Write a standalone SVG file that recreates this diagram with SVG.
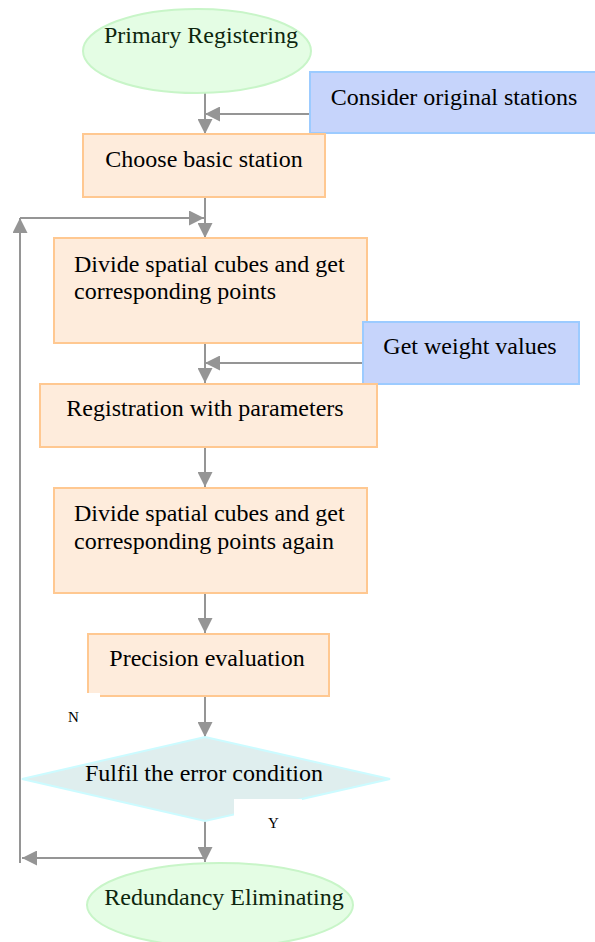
<svg xmlns="http://www.w3.org/2000/svg" width="595" height="942" viewBox="0 0 595 942">
<style>
.box{fill:#feecdc;stroke:#ffc891;stroke-width:2}
.blue{fill:#c6d4fb;stroke:#9ccbff;stroke-width:2}
.term{fill:#e4fde4;stroke:#c8f5c8;stroke-width:2}
.dia{fill:#dfeeee;stroke:#ccfbff;stroke-width:2}
.t{font-family:"Liberation Serif","Times New Roman",serif;font-size:24px;fill:#000}
.tg{font-family:"Liberation Serif","Times New Roman",serif;font-size:24px;fill:#0d260d}
.s{font-family:"Liberation Serif","Times New Roman",serif;font-size:15px;fill:#000}
.c{fill:none;stroke:#959595;stroke-width:2}
</style>
<defs>
<marker id="ah" viewBox="0 0 15 15" refX="15" refY="7.5" markerWidth="15" markerHeight="15" markerUnits="userSpaceOnUse" orient="auto">
<path d="M0,0 L15,7.5 L0,15 z" fill="#959595"/>
</marker>
</defs>
<g id="connectors">
<path class="c" d="M205,93 V134" marker-end="url(#ah)"/>
<path class="c" d="M310,114 H205" marker-end="url(#ah)"/>
<path class="c" d="M205,197 V238" marker-end="url(#ah)"/>
<path class="c" d="M205,343 V383" marker-end="url(#ah)"/>
<path class="c" d="M363,363 H205" marker-end="url(#ah)"/>
<path class="c" d="M205,447 V487" marker-end="url(#ah)"/>
<path class="c" d="M205,593 V633" marker-end="url(#ah)"/>
<path class="c" d="M205,697 V737" marker-end="url(#ah)"/>
<path class="c" d="M205,821 V862" marker-end="url(#ah)"/>
<path class="c" d="M205,858 H22" marker-end="url(#ah)"/>
<path class="c" d="M20,863 V218" marker-end="url(#ah)"/>
<path class="c" d="M20,218 H204" marker-end="url(#ah)"/>
</g>
<g id="start">
<ellipse class="term" cx="197" cy="51" rx="114" ry="42"/>
<text class="tg" x="201" y="43" text-anchor="middle">Primary Registering</text>
</g>
<g id="consider">
<rect class="blue" x="310" y="72" width="290" height="61"/>
<text class="t" x="454" y="105" text-anchor="middle">Consider original stations</text>
</g>
<g id="choose">
<rect class="box" x="83" y="134" width="242" height="63"/>
<text class="t" x="204" y="167" text-anchor="middle">Choose basic station</text>
</g>
<g id="divide1">
<rect class="box" x="54" y="238" width="313" height="105"/>
<text class="t" x="74" y="272">Divide spatial cubes and get</text>
<text class="t" x="74" y="299">corresponding points</text>
</g>
<g id="weight">
<rect class="blue" x="363" y="322" width="216" height="62"/>
<text class="t" x="470" y="354" text-anchor="middle">Get weight values</text>
</g>
<g id="registration">
<rect class="box" x="40" y="384" width="337" height="63"/>
<text class="t" x="205" y="416" text-anchor="middle">Registration with parameters</text>
</g>
<g id="divide2">
<rect class="box" x="54" y="488" width="313" height="105"/>
<text class="t" x="74" y="521">Divide spatial cubes and get</text>
<text class="t" x="74" y="549">corresponding points again</text>
</g>
<g id="precision">
<rect class="box" x="88" y="634" width="241" height="62"/>
<rect x="86" y="693" width="14" height="6" fill="#fff"/>
<text class="t" x="207" y="666" text-anchor="middle">Precision evaluation</text>
</g>
<g id="decision">
<polygon class="dia" points="205,737 390,779 205,821 22,779"/>
<text class="t" x="204" y="781" text-anchor="middle">Fulfil the error condition</text>
</g>
<g id="labels">
<text class="s" x="68" y="722">N</text>
<rect x="234" y="799" width="68" height="30" fill="#fff"/>
<text class="s" x="268" y="828">Y</text>
</g>
<g id="end">
<ellipse class="term" cx="220" cy="905" rx="133" ry="42"/>
<text class="tg" x="224" y="905" text-anchor="middle">Redundancy Eliminating</text>
</g>
</svg>
